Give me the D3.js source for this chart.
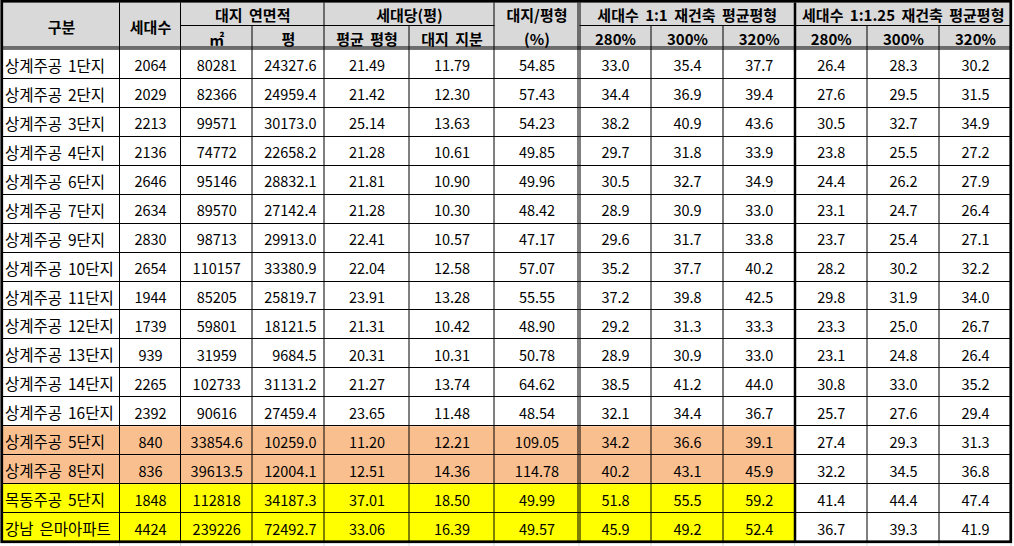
<!DOCTYPE html>
<html>
<head>
<meta charset="utf-8">
<script src="https://cdn.jsdelivr.net/npm/d3@7"></script>
<style>
  html, body { margin: 0; padding: 0; background: #fff; }
  svg { display: block; }
  text { font-family: "Noto Sans CJK KR", "Noto Sans", sans-serif; fill: #000; }
</style>
</head>
<body>
<svg id="chart" width="1014" height="546"></svg>
<script>

// Data
const names = ["상계주공 1단지", "상계주공 2단지", "상계주공 3단지", "상계주공 4단지", "상계주공 6단지",
    "상계주공 7단지", "상계주공 9단지", "상계주공 10단지", "상계주공 11단지", "상계주공 12단지",
    "상계주공 13단지", "상계주공 14단지", "상계주공 16단지", "상계주공 5단지", "상계주공 8단지",
    "목동주공 5단지", "강남 은마아파트"];
const households = [2064, 2029, 2213, 2136, 2646, 2634, 2830, 2654, 1944, 1739, 939, 2265, 2392, 840, 836, 1848, 4424];
const areaM2 = [80281, 82366, 99571, 74772, 95146, 89570, 98713, 110157, 85205, 59801, 31959, 102733, 90616, 33854.6, 39613.5, 112818, 239226];
const areaPyeong = [24327.6, 24959.4, 30173.0, 22658.2, 28832.1, 27142.4, 29913.0, 33380.9, 25819.7, 18121.5, 9684.5, 31131.2, 27459.4, 10259.0, 12004.1, 34187.3, 72492.7];
const avgSize = [21.49, 21.42, 25.14, 21.28, 21.81, 21.28, 22.41, 22.04, 23.91, 21.31, 20.31, 21.27, 23.65, 11.20, 12.51, 37.01, 33.06];
const landShare = [11.79, 12.30, 13.63, 10.61, 10.90, 10.30, 10.57, 12.58, 13.28, 10.42, 10.31, 13.74, 11.48, 12.21, 14.36, 18.50, 16.39];
const landRatio = [54.85, 57.43, 54.23, 49.85, 49.96, 48.42, 47.17, 57.07, 55.55, 48.90, 50.78, 64.62, 48.54, 109.05, 114.78, 49.99, 49.57];
const r1_280 = [33.0, 34.4, 38.2, 29.7, 30.5, 28.9, 29.6, 35.2, 37.2, 29.2, 28.9, 38.5, 32.1, 34.2, 40.2, 51.8, 45.9];
const r1_300 = [35.4, 36.9, 40.9, 31.8, 32.7, 30.9, 31.7, 37.7, 39.8, 31.3, 30.9, 41.2, 34.4, 36.6, 43.1, 55.5, 49.2];
const r1_320 = [37.7, 39.4, 43.6, 33.9, 34.9, 33.0, 33.8, 40.2, 42.5, 33.3, 33.0, 44.0, 36.7, 39.1, 45.9, 59.2, 52.4];
const r125_280 = [26.4, 27.6, 30.5, 23.8, 24.4, 23.1, 23.7, 28.2, 29.8, 23.3, 23.1, 30.8, 25.7, 27.4, 32.2, 41.4, 36.7];
const r125_300 = [28.3, 29.5, 32.7, 25.5, 26.2, 24.7, 25.4, 30.2, 31.9, 25.0, 24.8, 33.0, 27.6, 29.3, 34.5, 44.4, 39.3];
const r125_320 = [30.2, 31.5, 34.9, 27.2, 27.9, 26.4, 27.1, 32.2, 34.0, 26.7, 26.4, 35.2, 29.4, 31.3, 36.8, 47.4, 41.9];

// Header labels
const subHeaders = ["㎡", "평", "평균 평형", "대지 지분", "(%)", "280%", "300%", "320%", "280%", "300%", "320%"];
const groupHeaders = [
    { label: "구분", from: 0, to: 0, rows: 2 },
    { label: "세대수", from: 1, to: 1, rows: 2 },
    { label: "대지 연면적", from: 2, to: 3, rows: 1 },
    { label: "세대당(평)", from: 4, to: 5, rows: 1 },
    { label: "대지/평형", from: 6, to: 6, rows: 1 },
    { label: "세대수 1:1 재건축 평균평형", from: 7, to: 9, rows: 1 },
    { label: "세대수 1:1.25 재건축 평균평형", from: 10, to: 12, rows: 1 }
];
// Row highlight groups
const orangeRows = ["상계주공 5단지", "상계주공 8단지"];
const yellowRows = ["목동주공 5단지", "강남 은마아파트"];

// Layout
const colWidths = [117, 61, 71.5, 72, 85, 85, 85, 72, 72, 71.5, 72.5, 72, 72];
const tableLeft = 3, headTop = 2.5, headMid = 26, headBottom = 49.5, bodyBottom = 542;
const colEdges = colWidths.reduce((acc, w) => { acc.push(acc[acc.length - 1] + w); return acc; }, [tableLeft]);
const tableRight = colEdges[colEdges.length - 1];

const svg = d3.select("#chart");

const y = d3.scaleBand()
    .domain(names)
    .range([headBottom + 0.5, bodyBottom]);

// Cell values per row
const fmt = [
    (i) => names[i],
    (i) => String(households[i]),
    (i) => String(areaM2[i]),
    (i) => areaPyeong[i].toFixed(1),
    (i) => avgSize[i].toFixed(2),
    (i) => landShare[i].toFixed(2),
    (i) => landRatio[i].toFixed(2),
    (i) => r1_280[i].toFixed(1),
    (i) => r1_300[i].toFixed(1),
    (i) => r1_320[i].toFixed(1),
    (i) => r125_280[i].toFixed(1),
    (i) => r125_300[i].toFixed(1),
    (i) => r125_320[i].toFixed(1)
];

// Faint spreadsheet gridlines outside the table
const faint = svg.append("g").attr("stroke", "#dcdcdc").attr("stroke-width", 1);
colEdges.slice(1).forEach(x => {
    faint.append("line").attr("x1", x - 0.5).attr("x2", x - 0.5).attr("y1", bodyBottom).attr("y2", 546);
});

// Header background
svg.append("rect")
    .attr("x", tableLeft).attr("y", headTop)
    .attr("width", tableRight - tableLeft).attr("height", headBottom - headTop)
    .attr("fill", "#d9d9d9");

// Row backgrounds
const bodyG = svg.append("g");
names.forEach((n, i) => {
    let fill = null;
    if (orangeRows.includes(n)) fill = "#fabf8f";
    if (yellowRows.includes(n)) fill = "#ffff00";
    if (fill) {
        bodyG.append("rect")
            .attr("x", tableLeft).attr("y", y(n))
            .attr("width", colEdges[10] - tableLeft).attr("height", y.bandwidth())
            .attr("fill", fill);
    }
});

// Cell texts
const cells = [];
names.forEach((n, i) => {
    fmt.forEach((f, c) => cells.push({ row: n, col: c, text: f(i) }));
});
bodyG.selectAll("text.cell")
    .data(cells)
    .join("text")
    .attr("class", "cell")
    .attr("x", d => d.col === 0 ? tableLeft + 2 : d.col === 3 ? colEdges[4] - 8 : (colEdges[d.col] + colEdges[d.col + 1]) / 2)
    .attr("y", d => y(d.row) + y.bandwidth() / 2 + 0.5)
    .attr("text-anchor", d => d.col === 0 ? "start" : d.col === 3 ? "end" : "middle")
    .attr("dominant-baseline", "central")
    .style("font-size", d => d.col === 0 ? "15.5px" : "14.5px")
    .style("word-spacing", d => d.col === 0 ? "2.5px" : null)
    .text(d => d.text);

// Header texts
const headG = svg.append("g")
    .style("font-weight", "bold")
    .style("font-size", "15px")
    .style("word-spacing", "3px");
groupHeaders.forEach(h => {
    const cx = (colEdges[h.from] + colEdges[h.to + 1]) / 2;
    const cy = h.rows === 2 ? (headTop + headBottom) / 2 : (headTop + headMid) / 2;
    headG.append("text")
        .attr("x", cx).attr("y", cy + 0.5)
        .attr("text-anchor", "middle").attr("dominant-baseline", "central")
        .text(h.label);
});
subHeaders.forEach((s, k) => {
    const c = k + 2;
    headG.append("text")
        .attr("x", (colEdges[c] + colEdges[c + 1]) / 2)
        .attr("y", (headMid + headBottom) / 2 + 0.5)
        .attr("text-anchor", "middle").attr("dominant-baseline", "central")
        .text(s);
});

// Grid lines
const grid = svg.append("g").attr("stroke", "#000").attr("stroke-width", 1).attr("fill", "none");
// Horizontal body lines
names.slice(1).forEach(n => {
    grid.append("line").attr("x1", tableLeft).attr("x2", tableRight)
        .attr("y1", Math.round(y(n)) - 0.5).attr("y2", Math.round(y(n)) - 0.5);
});
// Header middle line under spanned group headers
grid.append("line").attr("x1", colEdges[2]).attr("x2", colEdges[6]).attr("y1", headMid - 0.5).attr("y2", headMid - 0.5);
grid.append("line").attr("x1", colEdges[7]).attr("x2", tableRight).attr("y1", headMid - 0.5).attr("y2", headMid - 0.5);
// Double line under header
grid.append("line").attr("x1", tableLeft).attr("x2", tableRight).attr("y1", headBottom - 2.5).attr("y2", headBottom - 2.5);
grid.append("line").attr("x1", tableLeft).attr("x2", tableRight).attr("y1", headBottom - 0.5).attr("y2", headBottom - 0.5);
// Vertical lines
colEdges.slice(1, -1).forEach((x, k) => {
    const c = k + 1;
    let y1 = headTop;
    if (c === 3 || c === 5 || c === 8 || c === 9 || c === 11 || c === 12) y1 = headMid;
    if (c === 7) {
        grid.append("line").attr("x1", x - 1.5).attr("x2", x - 1.5).attr("y1", headTop).attr("y2", bodyBottom);
        grid.append("line").attr("x1", x + 0.5).attr("x2", x + 0.5).attr("y1", headTop).attr("y2", bodyBottom);
    } else if (c === 10) {
        grid.append("line").attr("x1", x).attr("x2", x).attr("y1", headTop).attr("y2", bodyBottom).attr("stroke-width", 2.5);
    } else {
        grid.append("line").attr("x1", x - 0.5).attr("x2", x - 0.5).attr("y1", y1).attr("y2", bodyBottom);
    }
});

// Thick outer border
svg.append("rect")
    .attr("x", tableLeft - 1.25).attr("y", headTop - 1.25)
    .attr("width", tableRight - tableLeft + 0.5).attr("height", bodyBottom - headTop + 1)
    .attr("fill", "none").attr("stroke", "#000").attr("stroke-width", 2.75);

</script>
</body>
</html>
